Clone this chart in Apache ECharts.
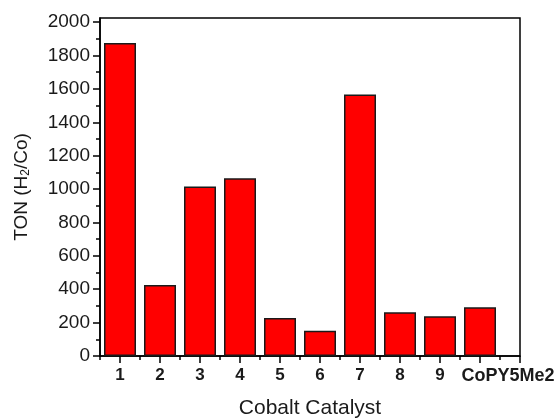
<!DOCTYPE html>
<html>
<head>
<meta charset="utf-8">
<script src="https://cdn.jsdelivr.net/npm/echarts@6/dist/echarts.min.js"></script>
<style>
  html, body { margin: 0; padding: 0; background: #fff; }
  #chart { width: 558px; height: 419px; }
</style>
</head>
<body>
<div id="chart"></div>
<script>
// Turnover numbers for each cobalt catalyst
const catalysts = ['1', '2', '3', '4', '5', '6', '7', '8', '9', 'CoPY5Me2'];
const tonValues = [1875, 425, 1015, 1065, 228, 152, 1567, 262, 238, 292];
const yTickLabels = [0, 200, 400, 600, 800, 1000, 1200, 1400, 1600, 1800, 2000];
const yMinorTicks = [100, 300, 500, 700, 900, 1100, 1300, 1500, 1700, 1900];

const positions = catalysts.map((_, i) => i + 1);
const xMajorTicks = positions.concat([catalysts.length + 1]);
const xMinorTicks = xMajorTicks.map(p => p - 0.5);
// the long last name sits a little to the right of its tick so it clears "9"
const LAST_SHIFT = 0.7;
const xLabelPositions = positions.map((p, i) => (i === positions.length - 1 ? p + LAST_SHIFT : p));

const FONT = '"Liberation Sans", Arial, sans-serif';

const chart = echarts.init(document.getElementById('chart'), null, { renderer: 'canvas' });

chart.setOption({
  animation: false,
  backgroundColor: '#fff',
  grid: {
    left: 100, right: 38, top: 18, bottom: 63,
    outerBoundsMode: 'none', containLabel: false,
    show: true, borderColor: '#000', borderWidth: 1.5, backgroundColor: 'transparent'
  },
  xAxis: [
    {
      type: 'value', min: 0.5, max: catalysts.length + 1,
      name: 'Cobalt Catalyst', nameLocation: 'middle', nameGap: 42,
      nameTextStyle: { fontFamily: FONT, fontSize: 21, color: '#1a1a1a' },
      axisLine: { show: true, onZero: false, lineStyle: { color: '#000', width: 1.5 } },
      axisTick: { show: true, customValues: xMajorTicks, length: 7, lineStyle: { color: '#000', width: 1.5 } },
      axisLabel: {
        customValues: xLabelPositions, margin: 11, hideOverlap: false,
        showMinLabel: true, showMaxLabel: true,
        fontFamily: FONT, fontSize: 17, fontWeight: 'bold', color: '#1a1a1a',
        formatter: v => {
          const name = catalysts[Math.min(Math.floor(v + 0.01), catalysts.length) - 1] || '';
          return name.length > 2 ? '{w|' + name + '}' : name;
        },
        rich: {
          w: { fontFamily: FONT, fontSize: 18, fontWeight: 'bold', color: '#1a1a1a' }
        }
      },
      splitLine: { show: false }
    },
    {
      type: 'value', min: 0.5, max: catalysts.length + 1, position: 'bottom',
      axisLine: { show: false },
      axisTick: { show: true, customValues: xMinorTicks, length: 4, lineStyle: { color: '#000', width: 1.5 } },
      axisLabel: { show: false },
      splitLine: { show: false }
    }
  ],
  yAxis: [
    {
      type: 'value', min: 0, max: 2025,
      name: '{t|TON (H}{s|2}{t|/Co)}', nameLocation: 'middle', nameGap: 68, nameRotate: 90,
      nameTextStyle: {
        rich: {
          t: { fontFamily: FONT, fontSize: 19, color: '#1a1a1a' },
          s: { fontFamily: FONT, fontSize: 12, color: '#1a1a1a', verticalAlign: 'bottom', padding: [8, 0, 0, 0] }
        }
      },
      axisLine: { show: true, onZero: false, lineStyle: { color: '#000', width: 1.5 } },
      axisTick: { show: true, customValues: yTickLabels, length: 7, lineStyle: { color: '#000', width: 1.5 } },
      axisLabel: {
        customValues: yTickLabels, margin: 10,
        fontFamily: FONT, fontSize: 19, color: '#1a1a1a',
        formatter: v => String(v)
      },
      splitLine: { show: false }
    },
    {
      type: 'value', min: 0, max: 2025, position: 'left',
      axisLine: { show: false },
      axisTick: { show: true, customValues: yMinorTicks, length: 4, lineStyle: { color: '#000', width: 1.5 } },
      axisLabel: { show: false },
      splitLine: { show: false }
    }
  ],
  series: [
    {
      type: 'bar',
      xAxisIndex: 0, yAxisIndex: 0,
      barWidth: 32,
      data: positions.map((p, i) => [p, tonValues[i]]),
      itemStyle: { color: '#ff0000', borderColor: '#1a1a1a', borderWidth: 1.5 }
    }
  ]
});
</script>
</body>
</html>
